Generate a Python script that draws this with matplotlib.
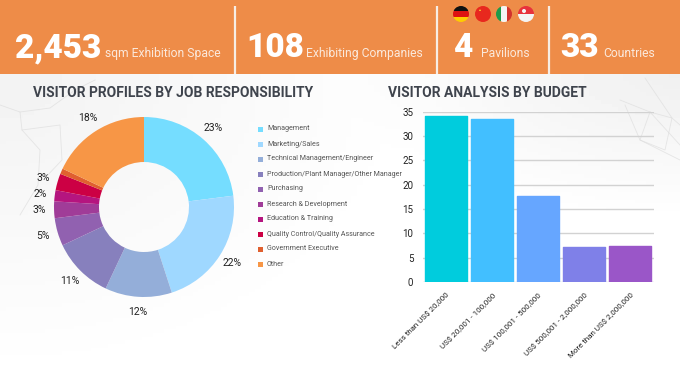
import numpy as np
import matplotlib
matplotlib.use('Agg')
import matplotlib.pyplot as plt
from matplotlib.patches import Rectangle, Circle, Polygon

jobs = ['Management', 'Marketing/Sales', 'Technical Management/Engineer',
        'Production/Plant Manager/Other Manager', 'Purchasing', 'Research & Development',
        'Education & Training', 'Quality Control/Quality Assurance', 'Government Executive', 'Other']
job_share = [23, 22, 12, 11, 5, 3, 2, 3, 1, 18]
job_colors = ['#75DDFF', '#9FD8FF', '#94AED9', '#8780BD', '#9161B0',
              '#A03C98', '#B5157F', '#CC0044', '#E0602F', '#F79646']

budgets = ['Less than US$ 20,000', 'US$ 20,001 - 100,000', 'US$ 100,001 - 500,000',
           'US$ 500,001 - 2,000,000', 'More than US$ 2,000,000']
budget_share = [34.2, 33.4, 17.7, 7.1, 7.5]
budget_colors = ['#00CCDD', '#42BFFF', '#66A6FF', '#7F80E8', '#9A56C8']
budget_ticks = [0, 5, 10, 15, 20, 25, 30, 35]

W, H = 680, 370
ORANGE = '#EE8C48'
DARK = '#3F444D'
FONT = 'Roboto'


def box(x0, y0, x1, y1):
    # pixel box (from top left) to figure fractions
    return [x0 / W, 1 - y1 / H, (x1 - x0) / W, (y1 - y0) / H]


fig = plt.figure(figsize=(W / 100, H / 100), dpi=100)

# page layer in pixels, y goes down
bg = fig.add_axes([0, 0, 1, 1])
bg.axis('off')
yy, xx = np.mgrid[0:1:80j, 0:1:120j]
shade = 1 - 0.05 * np.clip(1 - 1.6 * np.hypot(xx, yy * 0.6), 0, 1) - 0.06 * np.clip(1 - 2.0 * np.hypot(1 - xx, yy), 0, 1)
bg.imshow(shade, cmap='gray', vmin=0, vmax=1, extent=[0, W, H, 74], aspect='auto', zorder=0)
bg.set_xlim(0, W)
bg.set_ylim(H, 0)
bg.add_patch(Rectangle((0, 0), W, 74, color=ORANGE, lw=0, zorder=1))
for x in [235, 437, 548.5]:
    bg.plot([x, x], [6, 74], color='#F7EDE4', lw=1.6, zorder=2, solid_capstyle='butt')

# faint map lines behind the charts
for line in [[(0, 105), (20, 112), (22, 130), (40, 150), (38, 185), (20, 215)],
             [(20, 112), (50, 108), (75, 90), (95, 80)],
             [(22, 130), (60, 125), (62, 160), (45, 178)],
             [(620, 100), (650, 112), (680, 145)],
             [(625, 105), (640, 140), (680, 160)],
             [(650, 112), (640, 140), (665, 150), (672, 118), (650, 112)],
             [(645, 78), (672, 118), (680, 125)]]:
    xs, ys = zip(*line)
    bg.plot(xs, ys, color='#DDDDDD', lw=0.6, alpha=0.7, zorder=0.5)

# header figures
stats = [(15, '2,453', 105, 'sqm Exhibition Space'), (246, '108', 306, 'Exhibiting Companies'),
         (453, '4', 481, 'Pavilions'), (560, '33', 603, 'Countries')]
for x, num, x2, label in stats:
    bg.text(x, 57, num, color='white', fontsize=24, fontweight='black', family=FONT, va='baseline', zorder=3)
    bg.text(x2, 57, label, color='#FBE9DC', fontsize=8.7, family=FONT, va='baseline', zorder=3)

# flags
flag_y = 14
for cx, bands, vertical in [(461, ['#111111', '#DD1111', '#FFCC00'], False),
                            (483, ['#E8281E'], False),
                            (504, ['#1E9B4A', '#F4F4F4', '#D2322D'], True),
                            (526, ['#E8323C', '#F4F4F4'], False)]:
    clip = Circle((cx, flag_y), 8, transform=bg.transData)
    n = len(bands)
    for i, c in enumerate(bands):
        if vertical:
            r = Rectangle((cx - 8 + 16 * i / n, flag_y - 8), 16 / n, 16, color=c, lw=0, zorder=3)
        else:
            r = Rectangle((cx - 8, flag_y - 8 + 16 * i / n), 16, 16 / n, color=c, lw=0, zorder=3)
        bg.add_patch(r)
        r.set_clip_path(clip)
bg.add_patch(Polygon([(479, 11), (480, 9), (481, 11), (479, 10), (481, 10)], color='#FFDD33', lw=0, zorder=4))
bg.add_patch(Circle((524, 11), 2, color='#F4F4F4', lw=0, zorder=4))

# titles
bg.text(33, 97, 'VISITOR PROFILES BY JOB RESPONSIBILITY', color=DARK, fontsize=10, fontweight='bold',
        family=FONT, va='baseline', zorder=3)
bg.text(388, 97, 'VISITOR ANALYSIS BY BUDGET', color=DARK, fontsize=10, fontweight='bold',
        family=FONT, va='baseline', zorder=3)

# donut
ax = fig.add_axes(box(54, 117, 234, 297))
ax.pie(job_share, colors=job_colors, startangle=90, counterclock=False, radius=1,
       wedgeprops={'width': 0.5, 'linewidth': 0},
       autopct=lambda p: '%d%%' % round(p) if p >= 1.5 else '', pctdistance=1.165,
       textprops={'fontsize': 7.5, 'color': '#222222', 'family': FONT})
ax.set_xlim(-1, 1)
ax.set_ylim(-1, 1)
for t in ax.texts:
    t.set_clip_on(False)

# legend
for i, (name, c) in enumerate(zip(jobs, job_colors)):
    y = 129 + i * 15
    bg.add_patch(Rectangle((258, y - 2.5), 5, 5, color=c, lw=0, zorder=3))
    bg.text(267, y, name, color='#555555', fontsize=5.1, family=FONT, va='center', zorder=3)

# bars
ax2 = fig.add_axes(box(423, 111.7, 653.5, 282))
ax2.patch.set_alpha(0)
pos = np.arange(len(budgets))
ax2.bar(pos, budget_share, width=0.91, color=budget_colors, edgecolor=budget_colors, linewidth=1, joinstyle='round', zorder=3)
ax2.set_xlim(-0.5, len(budgets) - 0.5)
ax2.set_ylim(0, 35)
ax2.set_yticks(budget_ticks)
ax2.set_xticks(pos)
ax2.set_xticklabels(budgets, rotation=45, ha='right', rotation_mode='anchor', fontsize=5.8, color='#222222', family=FONT)
ax2.tick_params(axis='y', length=0, pad=7, labelsize=7, labelcolor='#222222')
ax2.tick_params(axis='x', length=0, pad=7)
for t in ax2.get_yticklabels():
    t.set_family(FONT)
ax2.grid(axis='y', color='#D2D2D2', lw=1, zorder=1)
ax2.set_axisbelow(True)
for s in ax2.spines.values():
    s.set_visible(False)

fig.savefig('out.png', dpi=100)
